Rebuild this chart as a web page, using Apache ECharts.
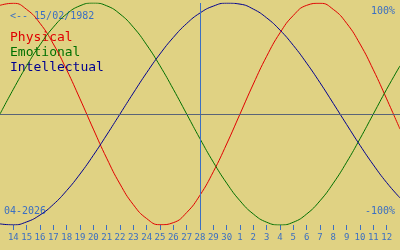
<!DOCTYPE html>
<html>
<head>
<meta charset="utf-8">
<script src="https://cdn.jsdelivr.net/npm/echarts@6/dist/echarts.min.js"></script>
<style>
html,body{margin:0;padding:0;background:#e0d283;}
#c{width:400px;height:250px;}
</style>
</head>
<body>
<div id="c"></div>
<script>
// day labels: 13 Apr (off-chart edge) .. 13 May (off-chart edge)
var days = ["13","14","15","16","17","18","19","20","21","22","23","24","25","26","27","28","29","30",
            "1","2","3","4","5","6","7","8","9","10","11","12","13"];
var physical = [97.9,99.8,94.2,81.7,63.1,39.8,13.6,-13.6,-39.8,-63.1,-81.7,-94.2,-99.8,-97.9,-88.8,-73.1,
                -52.0,-27.0,0,27.0,52.0,73.1,88.8,97.9,99.8,94.2,81.7,63.1,39.8,13.6,-13.6];
var emotional = [0,22.3,43.4,62.3,78.2,90.1,97.5,100,97.5,90.1,78.2,62.3,43.4,22.3,0,-22.3,
                 -43.4,-62.3,-78.2,-90.1,-97.5,-100,-97.5,-90.1,-78.2,-62.3,-43.4,-22.3,0,22.3,43.4];
var intellectual = [-99.0,-99.9,-97.2,-91.0,-81.5,-69.0,-54.1,-37.2,-18.9,0,18.9,37.2,54.1,69.0,81.5,91.0,
                    97.2,99.9,99.0,94.5,86.6,75.6,61.8,45.8,28.2,9.5,-9.5,-28.2,-45.8,-61.8,-75.6];
var todayLabel = "28";
var birthText = "<-- 15/02/1982";
var monthText = "04-2026";
var seriesNames = ["Physical","Emotional","Intellectual"];
var topText = "100%";
var bottomText = "-100%";

var mono = "DejaVu Sans Mono";
var blue = "#3b6fc2";
var colors = ["#e00000","#007000","#000090"];

var chart = echarts.init(document.getElementById('c'));
var last = days.length - 1;
chart.setOption({
  backgroundColor: "#e0d283",
  animation: false,
  grid: {left: 0, right: 0, top: 3, bottom: 25},
  xAxis: {
    type: "category",
    data: days,
    boundaryGap: false,
    axisLine: {show: false, onZero: false},
    axisTick: {show: true, length: 5, lineStyle: {color: blue, width: 1},
               interval: function (i) { return i > 0 && i < last; }},
    axisLabel: {color: blue, fontFamily: mono, fontSize: 9, margin: 8,
                interval: function (i) { return i > 0 && i < last; }},
    splitLine: {show: false}
  },
  yAxis: {type: "value", min: -100, max: 100, show: false},
  graphic: [
    {type: "text", left: 10, top: 11, style: {text: birthText, fill: blue, font: "10px " + mono}},
    {type: "text", left: 10, top: 31, style: {text: seriesNames[0], fill: colors[0], font: "13px " + mono}},
    {type: "text", left: 10, top: 46, style: {text: seriesNames[1], fill: colors[1], font: "13px " + mono}},
    {type: "text", left: 10, top: 61, style: {text: seriesNames[2], fill: colors[2], font: "13px " + mono}},
    {type: "text", right: 5, top: 6, style: {text: topText, fill: blue, font: "10px " + mono}},
    {type: "text", right: 5, top: 206, style: {text: bottomText, fill: blue, font: "10px " + mono}},
    {type: "text", left: 4, top: 206, style: {text: monthText, fill: blue, font: "10px " + mono}}
  ],
  series: [
    {name: seriesNames[0], type: "line", data: physical, smooth: true, symbol: "none",
     lineStyle: {color: colors[0], width: 1}, z: 3,
     markLine: {silent: true, symbol: "none", label: {show: false},
       lineStyle: {color: blue, width: 1, type: "solid"},
       data: [{xAxis: todayLabel}]}},
    {name: seriesNames[1], type: "line", data: emotional, smooth: true, symbol: "none",
     lineStyle: {color: colors[1], width: 1}, z: 3,
     markLine: {silent: true, symbol: "none", label: {show: false},
       lineStyle: {color: "#5a6478", width: 1, type: "solid"},
       data: [{yAxis: 0}]}},
    {name: seriesNames[2], type: "line", data: intellectual, smooth: true, symbol: "none",
     lineStyle: {color: colors[2], width: 1}, z: 3}
  ]
});
</script>
</body>
</html>
